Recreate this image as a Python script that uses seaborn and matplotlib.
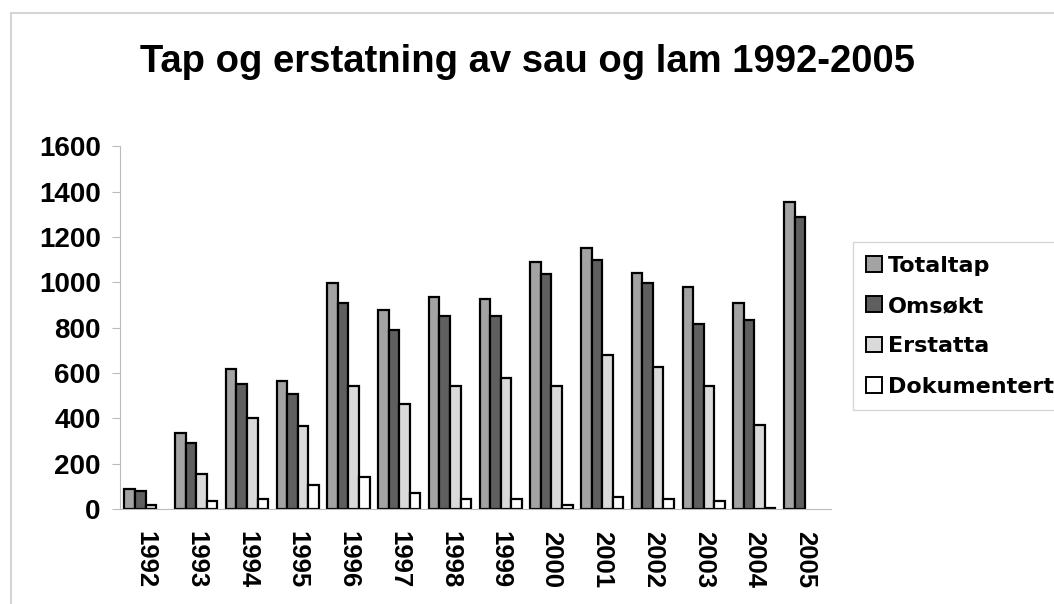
import matplotlib
matplotlib.use("Agg")
import matplotlib.pyplot as plt
import seaborn as sns
import pandas as pd
from matplotlib.patches import Rectangle

# data
years = ["1992", "1993", "1994", "1995", "1996", "1997", "1998",
         "1999", "2000", "2001", "2002", "2003", "2004", "2005"]
totaltap = [91, 335, 617, 564, 999, 880, 936, 925, 1090, 1153, 1043, 980, 908, 1354]
omsokt = [80, 291, 552, 508, 908, 790, 853, 853, 1036, 1100, 999, 818, 835, 1289]
erstatta = [18, 157, 400, 365, 544, 463, 544, 580, 544, 681, 627, 544, 372, 0]
dokumentert = [0, 37, 45, 108, 144, 73, 45, 45, 19, 53, 45, 37, 6, 0]
series = ["Totaltap", "Omsøkt", "Erstatta", "Dokumentert"]
colors = ["#a3a3a3", "#5f5f5f", "#dadada", "#ffffff"]

df = pd.DataFrame({"Totaltap": totaltap, "Omsøkt": omsokt,
                   "Erstatta": erstatta, "Dokumentert": dokumentert}, index=years)
long = df.reset_index(names="year").melt(id_vars="year", var_name="serie", value_name="antall")

sns.set_style("white")
plt.rcParams['font.family'] = ['Liberation Sans', 'DejaVu Sans']
plt.rcParams['text.color'] = 'black'
plt.rcParams['xtick.color'] = 'black'
plt.rcParams['ytick.color'] = 'black'

fig = plt.figure(figsize=(10.54, 6.04), dpi=100)
ax = fig.add_axes([0.114, 0.157, 0.674, 0.601])

sns.barplot(data=long, x="year", y="antall", hue="serie", hue_order=series,
            palette=colors, edgecolor="black", linewidth=1.6, width=0.83,
            ax=ax, legend=True)

# zero-height bars are not shown in the original
for cont in ax.containers:
    for bar in cont:
        if bar.get_height() == 0:
            bar.set_visible(False)

ax.set_ylim(0, 1600)
ax.set_yticks(range(0, 1601, 200))
ax.set_xlim(-0.5, len(years) - 0.5)
ax.set_xlabel("")
ax.set_ylabel("")

for lab in ax.get_yticklabels():
    lab.set_fontsize(20)
    lab.set_fontweight("bold")
ax.set_xticks(range(len(years)))
ax.set_xticklabels(years, rotation=-90, fontsize=18.5, fontweight="bold")

# ticks between categories
ax.set_xticks([i - 0.5 for i in range(len(years) + 1)], minor=True)
ax.tick_params(axis="x", which="major", length=0, pad=16)
ax.tick_params(axis="x", which="minor", length=7, color="#bbbbbb", direction="out")
ax.tick_params(axis="y", length=6, color="#bbbbbb", labelcolor="black",
               direction="out", left=True, pad=8)

sns.despine(ax=ax, top=True, right=True)
ax.spines["left"].set_color("#bbbbbb")
ax.spines["bottom"].set_color("#bbbbbb")

fig.text(0.5, 0.897, "Tap og erstatning av sau og lam 1992-2005", fontsize=27.5,
         fontweight="bold", ha="center", va="center")

leg = ax.legend(loc="upper left", bbox_to_anchor=(0.809, 0.599),
                bbox_transform=fig.transFigure, frameon=True, fancybox=False,
                prop={"size": 16, "weight": "bold", "family": "DejaVu Sans"},
                handlelength=0.7, handleheight=0.7, handletextpad=0.3,
                labelspacing=0.92, borderpad=0.6, borderaxespad=0)
leg.get_frame().set_edgecolor("#cccccc")
for h in leg.legend_handles:
    h.set_edgecolor("black")
    h.set_linewidth(1.4)

# outer chart frame
fig.patches.append(Rectangle((0.01, -0.1), 1.1, 1.078, transform=fig.transFigure,
                             fill=False, edgecolor="#cccccc", linewidth=1.2))

fig.savefig("out.png", dpi=100)
